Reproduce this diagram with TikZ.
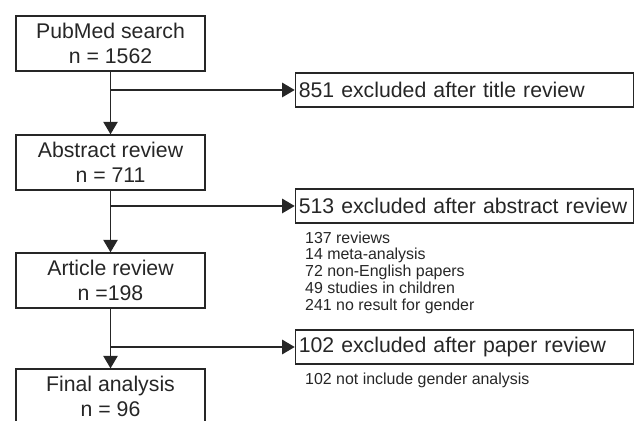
\documentclass[tikz,border=0pt]{standalone}
\usepackage{fontspec}
\setmainfont{Liberation Sans}
\usetikzlibrary{positioning,arrows.meta}
\definecolor{inkgray}{HTML}{262626}
\tikzset{
  flowarrow/.style={-{Triangle[length=3.3mm,width=3.8mm]}, line width=1pt, draw=inkgray},
  stagebox/.style={draw=inkgray, line width=1pt, minimum width=5cm, minimum height=1.455cm, align=center, text=inkgray, font=\fontsize{16}{18.75}\selectfont},
  exclbox/.style={draw=inkgray, line width=1pt, text width=8.77cm, inner xsep=0.09cm, minimum height=0.9cm, align=left, text=inkgray, font=\fontsize{16}{18.75}\selectfont},
  notelist/.style={align=left, inner sep=0pt, text=inkgray, font=\fontsize{12}{12.75}\selectfont}
}
\begin{document}
\begin{tikzpicture}
  \useasboundingbox (0,0) rectangle (16.907,-11.139);
  \clip (0,0) rectangle (16.907,-11.139);
  % main stages
  \node[stagebox] (pubmed) at (2.924,-1.151) {PubMed search\\ n = 1562};
  \node[stagebox] (abstract) at (2.924,-4.299) {Abstract review\\ n = 711};
  \node[stagebox] (article) at (2.924,-7.421) {Article review\\ n =198};
  \node[stagebox] (final) at (2.924,-10.491) {Final analysis\\ n = 96};
  % exclusions
  \node[exclbox] (exttl) at (12.29,-2.381) {851 excluded after title review};
  \node[exclbox] (exabs) at (12.29,-5.45) {513 excluded after abstract review};
  \node[exclbox] (expap) at (12.29,-9.181) {102 excluded after paper review};
  \node[notelist, anchor=north west, xshift=0.27cm, yshift=-0.2cm] (absnotes) at (exabs.south west)
    {137 reviews\\ 14 meta-analysis\\ 72 non-English papers\\ 49 studies in children\\ 241 no result for gender};
  \node[notelist, anchor=north west, xshift=0.27cm, yshift=-0.2cm] (papnotes) at (expap.south west)
    {102 not include gender analysis};
  % flow
  \draw[flowarrow] (pubmed) -- (abstract);
  \draw[flowarrow] (abstract) -- (article);
  \draw[flowarrow] (article) -- (final);
  \draw[flowarrow] (pubmed.south |- exttl) -- (exttl);
  \draw[flowarrow] (abstract.south |- exabs) -- (exabs);
  \draw[flowarrow] (article.south |- expap) -- (expap);
\end{tikzpicture}
\end{document}
